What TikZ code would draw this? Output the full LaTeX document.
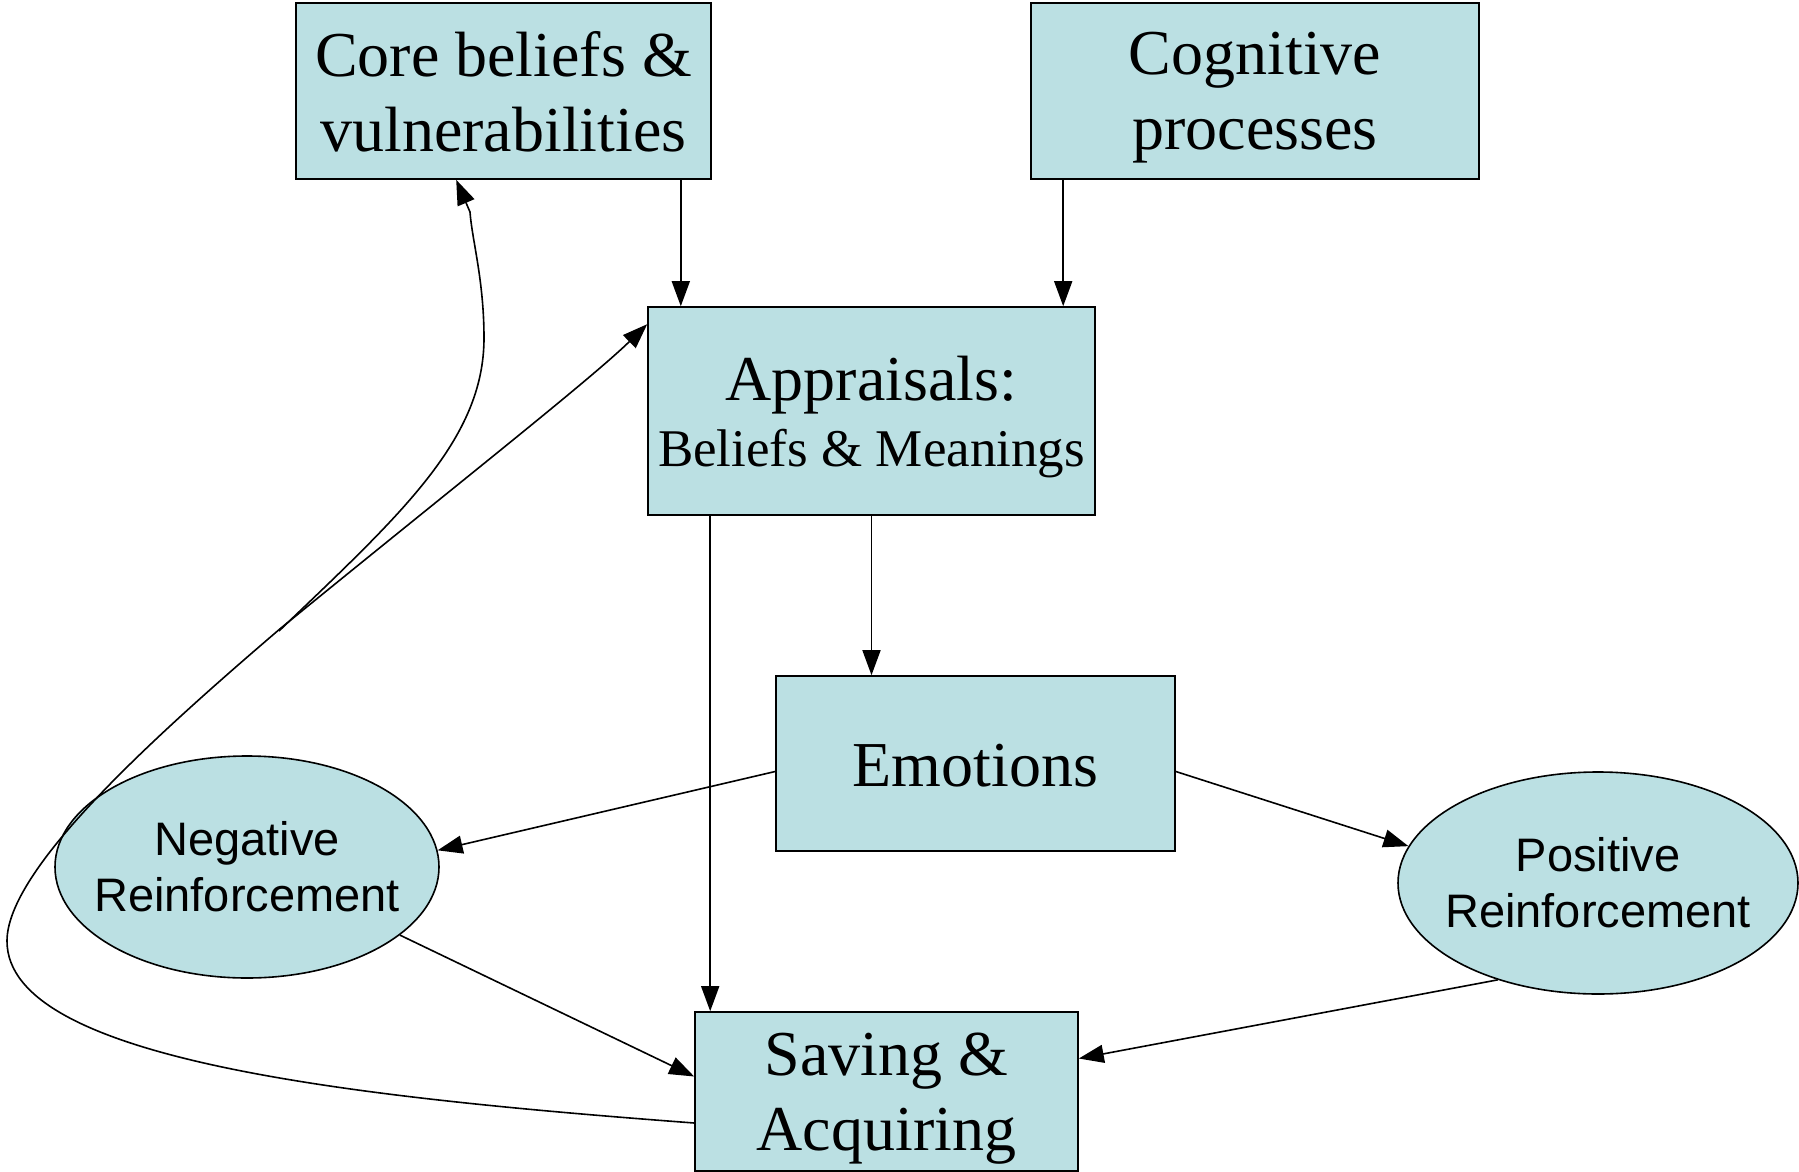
\documentclass[tikz,border=0pt]{standalone}
\usepackage{fontspec}
\setmainfont{Liberation Serif}
\newfontfamily\arialfont{Liberation Sans}
\usetikzlibrary{arrows.meta,shapes.geometric}
\definecolor{boxfill}{RGB}{187,224,227}
\begin{document}
\begin{tikzpicture}[x=1pt,y=-1pt,
  box/.style={draw=black, line width=1.6pt, fill=boxfill, rectangle, inner sep=0pt, align=center, text depth=0pt, font=\fontsize{64}{75}\selectfont},
  oval/.style={draw=black, line width=1.6pt, fill=boxfill, ellipse, inner xsep=-20pt, inner ysep=0pt, align=center, font=\arialfont\fontsize{47}{56}\selectfont},
  arr/.style={line width=1.6pt, -{Triangle[length=25pt,width=18pt]}}]
\useasboundingbox (0,0) rectangle (1799,1172);
\node[box, minimum width=415pt, minimum height=176pt] (core) at (503.5,91) {Core beliefs \&\\vulnerabilities};
\node[box, minimum width=448pt, minimum height=176pt] (cog) at (1255,91) {Cognitive\\processes};
\node[box, minimum width=447pt, minimum height=208pt] (appr) at (871.5,411) {Appraisals:\\[-9pt]\fontsize{53}{66}\selectfont Beliefs \& Meanings};
\node[box, minimum width=399pt, minimum height=175pt] (emo) at (975.5,763.5) {\raisebox{-4pt}{Emotions}};
\node[oval, minimum width=384pt, minimum height=222pt] (neg) at (247,867) {Negative\\Reinforcement};
\node[oval, minimum width=400pt, minimum height=222pt] (pos) at (1598,883) {Positive\\Reinforcement};
\node[box, minimum width=383pt, minimum height=159pt] (sav) at (886.5,1091.5) {Saving \&\\Acquiring};
\coordinate (far) at (7,941);
\coordinate (branch) at (281,628);
\coordinate (branchb) at (279,631);
\draw[arr] ([xshift=-31pt]core.south east) -- ([xshift=-31pt]core.south east |- appr.north);
\draw[arr] ([xshift=33pt]cog.south west) -- ([xshift=33pt]cog.south west |- appr.north);
\draw[arr] (appr.south) -- (emo.north -| appr.south);
\draw[arr] ([xshift=63pt]appr.south west) -- ([xshift=63pt]appr.south west |- sav.north);
\draw[arr] ([yshift=-8pt]emo.west) -- (neg.5);
\draw[arr] ([yshift=-8pt]emo.east) -- (pos.169);
\draw[arr] (neg.-24) -- ([yshift=15pt]sav.west);
\draw[arr] (pos.224) -- ([yshift=33pt]sav.east);
\draw[arr] ([yshift=-31.5pt]sav.west) .. controls (350,1097) and (7,1060) .. (far)
  .. controls (7,870) and (150,740) .. (branch)
  .. controls (450,490) and (590,380) .. ([yshift=-18pt]appr.north west);
\draw[arr] (branchb) .. controls (400,515) and (484,440) .. (484,338)
  .. controls (484,280) and (472,240) .. (470,212) -- ([xshift=161pt]core.south west);
\end{tikzpicture}
\end{document}
